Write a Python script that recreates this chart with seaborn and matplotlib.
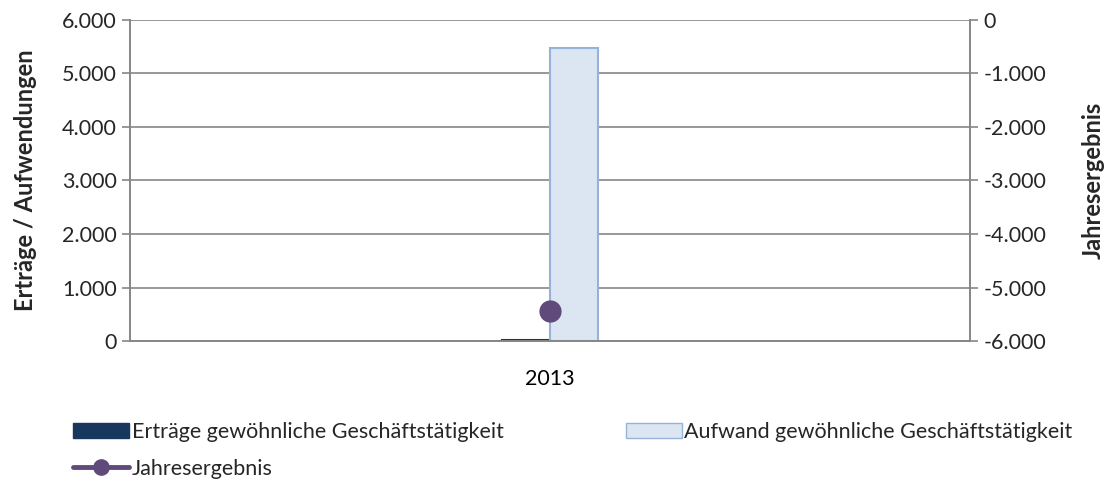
import matplotlib
matplotlib.use('Agg')
import matplotlib.pyplot as plt
from matplotlib.ticker import FuncFormatter, FixedLocator
from matplotlib.lines import Line2D
from matplotlib.patches import Patch
import seaborn as sns
import numpy as np
import pandas as pd

# data
slots = [0, 1, 2, 3, 4]
slot_labels = ['', '', '2013', '', '']
ertraege = [np.nan, np.nan, 25, np.nan, np.nan]
aufwand = [np.nan, np.nan, 5470, np.nan, np.nan]
jahresergebnis = [np.nan, np.nan, -5445, np.nan, np.nan]

series_names = ['Erträge gewöhnliche Geschäftstätigkeit', 'Aufwand gewöhnliche Geschäftstätigkeit']
bar_colors = ['#17375E', '#DCE6F2']
edge_colors = ['#17375E', '#95B3D7']
line_color = '#604A7B'
grid_color = '#868686'

sns.set_style('white')
plt.rcParams['font.family'] = ['Lato', 'DejaVu Sans']

FS = 15.5
LABEL_FS = 17

df = pd.DataFrame({
    'slot': slots * 2,
    'value': ertraege + aufwand,
    'series': [series_names[0]] * 5 + [series_names[1]] * 5,
})

fig = plt.figure(figsize=(11.09, 4.86), dpi=100)
ax = fig.add_axes([130 / 1109, 1 - 341 / 486, 840 / 1109, 321 / 486])

sns.barplot(data=df, x='slot', y='value', hue='series', order=slots,
            hue_order=series_names, palette=bar_colors, width=0.57,
            dodge=True, legend=False, ax=ax, saturation=1)
for patch_group, ec in zip(ax.containers, edge_colors):
    for p in patch_group:
        p.set_edgecolor(ec)
        p.set_linewidth(1.5)

ax.set_xlim(-0.5, 4.5)
ax.set_ylim(0, 6000)
ax.set_yticks(np.arange(0, 6001, 1000))
fmt = FuncFormatter(lambda v, _: f'{int(v):,}'.replace(',', '.'))
ax.yaxis.set_major_formatter(fmt)
ax.yaxis.grid(True, color=grid_color, linewidth=1.2)
ax.set_axisbelow(True)

ax.set_xticks(slots)
ax.set_xticklabels(slot_labels)
ax.xaxis.set_minor_locator(FixedLocator(np.arange(-0.5, 5, 1)))
ax.tick_params(axis='x', which='major', length=0, labelsize=FS, pad=20, colors='black')
ax.tick_params(axis='x', which='minor', length=6, width=1.2, color=grid_color, direction='out')
ax.tick_params(axis='y', length=6, width=1.2, color=grid_color, labelsize=FS, direction='out', left=True)
ax.set_xlabel('')
ax.set_ylabel('Erträge / Aufwendungen', fontsize=LABEL_FS, fontweight='bold', labelpad=18)

for side in ['left', 'bottom', 'right']:
    ax.spines[side].set_color(grid_color)
    ax.spines[side].set_linewidth(1.2)
ax.spines['top'].set_visible(False)

ax2 = ax.twinx()
ax2.plot(slots, jahresergebnis, color=line_color, marker='o', markersize=15, linewidth=3)
ax2.set_ylim(-6000, 0)
ax2.set_yticks(np.arange(-6000, 1, 1000))
ax2.yaxis.set_major_formatter(fmt)
ax2.tick_params(axis='y', length=6, width=1.2, color=grid_color, labelsize=FS, direction='out')
ax2.set_ylabel('Jahresergebnis', fontsize=LABEL_FS, fontweight='bold', labelpad=26)
for side in ['left', 'bottom', 'right']:
    ax2.spines[side].set_color(grid_color)
    ax2.spines[side].set_linewidth(1.2)
ax2.spines['top'].set_visible(False)

handles = [
    Patch(facecolor=bar_colors[0], edgecolor=edge_colors[0]),
    Line2D([0], [0], color=line_color, marker='o', markersize=11, linewidth=3.5),
    Patch(facecolor=bar_colors[1], edgecolor=edge_colors[1]),
]
labels = [series_names[0], 'Jahresergebnis', series_names[1]]
fig.legend(handles, labels, ncol=2, loc='upper left', bbox_to_anchor=(54 / 1109, 1 - 403 / 486),
           frameon=False, fontsize=FS, handlelength=2.6, handleheight=0.7, handletextpad=0.1,
           columnspacing=5.7, labelspacing=0.75)

plt.savefig('out.png', dpi=100)
plt.close()
